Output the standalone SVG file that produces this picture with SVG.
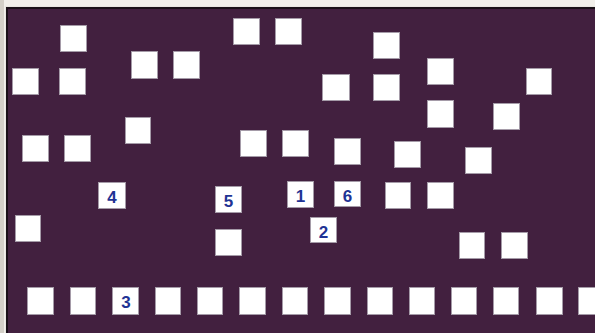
<svg xmlns="http://www.w3.org/2000/svg" width="595" height="333" viewBox="0 0 595 333">
<style>
.b rect{fill:#ffffff;stroke:#a59ba8;stroke-width:1}
.b text{font-family:"Liberation Sans",Arial,sans-serif;font-weight:bold;font-size:17px;fill:#1f3394;text-anchor:middle}
</style>
<rect x="0" y="0" width="595" height="333" fill="#f1efea"/>
<rect x="0" y="0" width="4" height="333" fill="#d4d0c8"/>
<rect x="5" y="6" width="590" height="327" fill="#e8e6e0"/>
<rect x="6" y="7" width="589" height="326" fill="#1a1018"/>
<rect x="8" y="9" width="587" height="324" fill="#42203f"/>
<g id="connectors"/>
<g id="n1" class="b"><rect x="60.5" y="25.5" width="26" height="26"/></g>
<g id="n2" class="b"><rect x="12.5" y="68.5" width="26" height="26"/></g>
<g id="n3" class="b"><rect x="59.5" y="68.5" width="26" height="26"/></g>
<g id="n4" class="b"><rect x="131.5" y="51.5" width="26" height="27"/></g>
<g id="n5" class="b"><rect x="173.5" y="51.5" width="26" height="27"/></g>
<g id="n6" class="b"><rect x="233.5" y="18.5" width="26" height="26"/></g>
<g id="n7" class="b"><rect x="275.5" y="18.5" width="26" height="26"/></g>
<g id="n8" class="b"><rect x="125.5" y="117.5" width="25" height="26"/></g>
<g id="n9" class="b"><rect x="22.5" y="135.5" width="26" height="26"/></g>
<g id="n10" class="b"><rect x="64.5" y="135.5" width="26" height="26"/></g>
<g id="n11" class="b"><rect x="240.5" y="130.5" width="26" height="26"/></g>
<g id="n12" class="b"><rect x="282.5" y="130.5" width="26" height="26"/></g>
<g id="n13" class="b"><rect x="373.5" y="32.5" width="26" height="26"/></g>
<g id="n14" class="b"><rect x="427.5" y="58.5" width="26" height="26"/></g>
<g id="n15" class="b"><rect x="322.5" y="74.5" width="27" height="26"/></g>
<g id="n16" class="b"><rect x="373.5" y="74.5" width="26" height="26"/></g>
<g id="n17" class="b"><rect x="526.5" y="68.5" width="25" height="26"/></g>
<g id="n18" class="b"><rect x="427.5" y="100.5" width="26" height="27"/></g>
<g id="n19" class="b"><rect x="493.5" y="103.5" width="26" height="26"/></g>
<g id="n20" class="b"><rect x="334.5" y="138.5" width="26" height="26"/></g>
<g id="n21" class="b"><rect x="394.5" y="141.5" width="26" height="26"/></g>
<g id="n22" class="b"><rect x="465.5" y="147.5" width="26" height="26"/></g>
<g id="label4" class="b"><rect x="98.5" y="182.5" width="27" height="26"/><text x="112" y="203">4</text></g>
<g id="label5" class="b"><rect x="215.5" y="186.5" width="26" height="26"/><text x="228.5" y="207">5</text></g>
<g id="label1" class="b"><rect x="287.5" y="181.5" width="26" height="26"/><text x="300.5" y="202">1</text></g>
<g id="label6" class="b"><rect x="334.5" y="181.5" width="26" height="25"/><text x="347.5" y="202">6</text></g>
<g id="label2" class="b"><rect x="310.5" y="217.5" width="26" height="25"/><text x="323.5" y="238">2</text></g>
<g id="n23" class="b"><rect x="15.5" y="215.5" width="25" height="26"/></g>
<g id="n24" class="b"><rect x="215.5" y="229.5" width="26" height="26"/></g>
<g id="n25" class="b"><rect x="385.5" y="182.5" width="25" height="26"/></g>
<g id="n26" class="b"><rect x="427.5" y="182.5" width="26" height="26"/></g>
<g id="n27" class="b"><rect x="459.5" y="232.5" width="25" height="26"/></g>
<g id="n28" class="b"><rect x="501.5" y="232.5" width="26" height="26"/></g>
<g id="r1" class="b"><rect x="27.5" y="287.5" width="26" height="27"/></g>
<g id="r2" class="b"><rect x="70.5" y="287.5" width="25" height="27"/></g>
<g id="label3" class="b"><rect x="112.5" y="287.5" width="26" height="27"/><text x="126" y="308">3</text></g>
<g id="r4" class="b"><rect x="155.5" y="287.5" width="25" height="27"/></g>
<g id="r5" class="b"><rect x="197.5" y="287.5" width="25" height="27"/></g>
<g id="r6" class="b"><rect x="239.5" y="287.5" width="26" height="27"/></g>
<g id="r7" class="b"><rect x="282.5" y="287.5" width="25" height="27"/></g>
<g id="r8" class="b"><rect x="324.5" y="287.5" width="26" height="27"/></g>
<g id="r9" class="b"><rect x="367.5" y="287.5" width="25" height="27"/></g>
<g id="r10" class="b"><rect x="409.5" y="287.5" width="25" height="27"/></g>
<g id="r11" class="b"><rect x="451.5" y="287.5" width="25" height="27"/></g>
<g id="r12" class="b"><rect x="493.5" y="287.5" width="25" height="27"/></g>
<g id="r13" class="b"><rect x="536.5" y="287.5" width="26" height="27"/></g>
<g id="r14" class="b"><rect x="578.5" y="287.5" width="26" height="27"/></g>
</svg>
